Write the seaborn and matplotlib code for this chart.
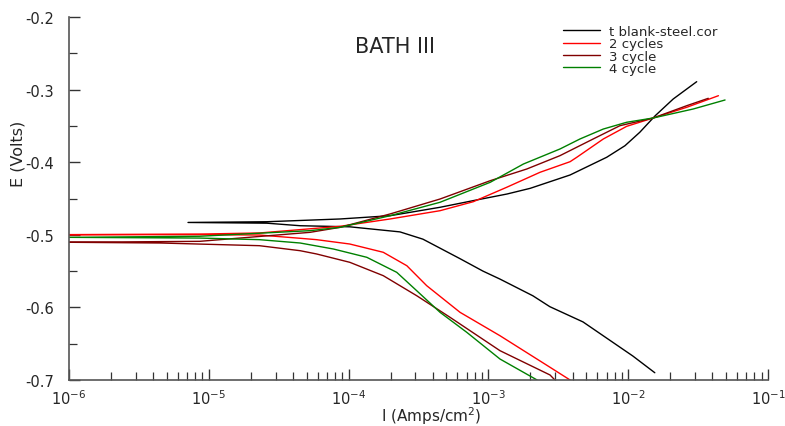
import numpy as np
import pandas as pd
import matplotlib
matplotlib.use("Agg")
import matplotlib.pyplot as plt
import matplotlib.ticker as mticker
import seaborn as sns


# =====================================================
# DATA  (scan order: cathodic -> anodic)
# =====================================================

blank_I = [0.0155, 0.0108, 0.00475, 0.00275, 0.00208, 0.00121, 0.000914,
           0.000628, 0.00034, 0.000233, 0.000102, 4.5e-05, 2.6e-05, 7.1e-06,
           2.6e-05, 8.7e-05, 0.000198, 0.000451, 0.000776, 0.00136,
           0.00199, 0.00384, 0.00702, 0.00948, 0.0121, 0.0156, 0.021, 0.0309]
blank_E = [-0.690, -0.667, -0.620, -0.599, -0.584, -0.561, -0.550,
           -0.533, -0.506, -0.496, -0.489, -0.4875, -0.484, -0.483,
           -0.482, -0.4782, -0.4737, -0.4621, -0.4530, -0.4438,
           -0.4360, -0.4176, -0.3932, -0.3773, -0.3588, -0.3360, -0.3129, -0.2891]

c2_I = [0.00384, 0.00276, 0.00121, 0.000627, 0.000362, 0.000261, 0.000177,
        0.000102, 5.9e-05, 4.5e-05, 2.3e-05, 8.6e-06, 1e-06,
        8.6e-06, 2.3e-05, 8.7e-05, 0.000198, 0.000451, 0.00078, 0.00135,
        0.00234, 0.00384, 0.00429, 0.00664, 0.00975, 0.0151, 0.0262, 0.0442]
c2_E = [-0.700, -0.6825, -0.6390, -0.6068, -0.5701, -0.5426, -0.5241,
        -0.5127, -0.5067, -0.5048, -0.5003, -0.4998, -0.4998,
        -0.4990, -0.4975, -0.4883, -0.4782, -0.4668, -0.4544, -0.4346,
        -0.4139, -0.3993, -0.3932, -0.3680, -0.3506, -0.3391, -0.3244, -0.3084]

c3_I = [0.00299, 0.00276, 0.00121, 0.000531, 0.000307, 0.000177, 0.000102,
        5.9e-05, 4.5e-05, 2.3e-05, 4.5e-06, 1e-06,
        8.6e-06, 5.3e-05, 8.7e-05, 0.000198, 0.000451, 0.00103, 0.00188,
        0.00325, 0.00562, 0.00873, 0.0151, 0.0262, 0.0374]
c3_E = [-0.700, -0.6931, -0.6596, -0.6136, -0.5839, -0.5563, -0.5379,
        -0.5264, -0.5219, -0.5150, -0.5113, -0.5103,
        -0.5090, -0.4966, -0.4897, -0.4713, -0.4507, -0.4255, -0.4094,
        -0.3910, -0.3680, -0.3497, -0.3391, -0.3222, -0.3120]

c4_I = [0.00223, 0.00121, 0.0007, 0.000451, 0.000307, 0.000221, 0.000135,
        7.8e-05, 4.5e-05, 2.3e-05, 8.6e-06, 1e-06,
        8.6e-06, 5.3e-05, 8.7e-05, 0.000198, 0.000451, 0.00103, 0.00178,
        0.00325, 0.00452, 0.00664, 0.00975, 0.0151, 0.0292, 0.0493]
c4_E = [-0.700, -0.6711, -0.6343, -0.6068, -0.5770, -0.5517, -0.5310,
        -0.5196, -0.5113, -0.5067, -0.5045, -0.5035,
        -0.5020, -0.4943, -0.4897, -0.4737, -0.4552, -0.4277, -0.4025,
        -0.3818, -0.3680, -0.3543, -0.3450, -0.3391, -0.3267, -0.3143]

labels = ["t blank-steel.cor", "2 cycles", "3 cycle", "4 cycle"]
colors = ["#000000", "#ff0000", "#800000", "#008000"]

x_ticks = [1e-6, 1e-5, 1e-4, 1e-3, 1e-2, 1e-1]
x_tick_labels = ["10$^{-6}$", "10$^{-5}$", "10$^{-4}$", "10$^{-3}$",
                 "10$^{-2}$", "10$^{-1}$"]
y_ticks = [-0.7, -0.6, -0.5, -0.4, -0.3, -0.2]


# =====================================================
# BUILD TABLE
# =====================================================

frames = []

for name, I, E in zip(labels,
                      [blank_I, c2_I, c3_I, c4_I],
                      [blank_E, c2_E, c3_E, c4_E]):

    frames.append(pd.DataFrame({"I": I, "E": E, "curve": name}))

df = pd.concat(frames, ignore_index=True)


# =====================================================
# PLOT
# =====================================================

sns.set_style("white")
plt.rcParams["font.family"] = ["DejaVu Sans"]
plt.rcParams["mathtext.fontset"] = "dejavusans"

fig = plt.figure(figsize=(7.85, 4.27), dpi=100)
ax = fig.add_axes([69 / 785, 1 - 381 / 427, 699 / 785, 363 / 427])

sns.lineplot(
    data=df,
    x="I",
    y="E",
    hue="curve",
    hue_order=labels,
    palette=dict(zip(labels, colors)),
    sort=False,
    estimator=None,
    linewidth=1.0,
    ax=ax
)

ax.set_xscale("log")
ax.set_xlim(1e-6, 1e-1)
ax.set_ylim(-0.7, -0.2)

ax.set_xticks(x_ticks)
ax.set_xticklabels(x_tick_labels, fontsize=10.5)
ax.xaxis.set_minor_locator(mticker.LogLocator(base=10, subs=np.arange(2, 10)))
ax.xaxis.set_minor_formatter(mticker.NullFormatter())

ax.set_yticks(y_ticks)
ax.set_yticklabels([f"{v:.1f}" for v in y_ticks], fontsize=10.5)
ax.yaxis.set_minor_locator(mticker.MultipleLocator(0.05))

ax.tick_params(which="both", direction="in", color="#333333",
               bottom=True, left=True)
ax.tick_params(which="major", length=8, width=1.0)
ax.tick_params(which="minor", length=6, width=0.9)
ax.tick_params(axis="y", which="major", pad=11)
ax.tick_params(axis="x", which="major", pad=6)

for side in ["top", "right"]:
    ax.spines[side].set_visible(False)

for side in ["left", "bottom"]:
    ax.spines[side].set_color("#555555")
    ax.spines[side].set_linewidth(1.2)

ax.set_xlabel("I (Amps/cm$^2$)", fontsize=11)
ax.xaxis.set_label_coords(0.519, -0.068)
ax.set_ylabel("E (Volts)", fontsize=11.5)
ax.yaxis.set_label_coords(-0.062, 0.625)

ax.text(0.466, 0.92, "BATH III", transform=ax.transAxes,
        fontsize=15, ha="center", va="center")

ax.legend(
    loc="upper left",
    bbox_to_anchor=(563 / 785, 1 - 26 / 427),
    bbox_transform=fig.transFigure,
    frameon=False,
    fontsize=9.5,
    handlelength=2.8,
    handletextpad=0.7,
    labelspacing=-0.05,
    borderpad=0,
    borderaxespad=0
)

fig.savefig("out.png", dpi=100)
plt.close(fig)
